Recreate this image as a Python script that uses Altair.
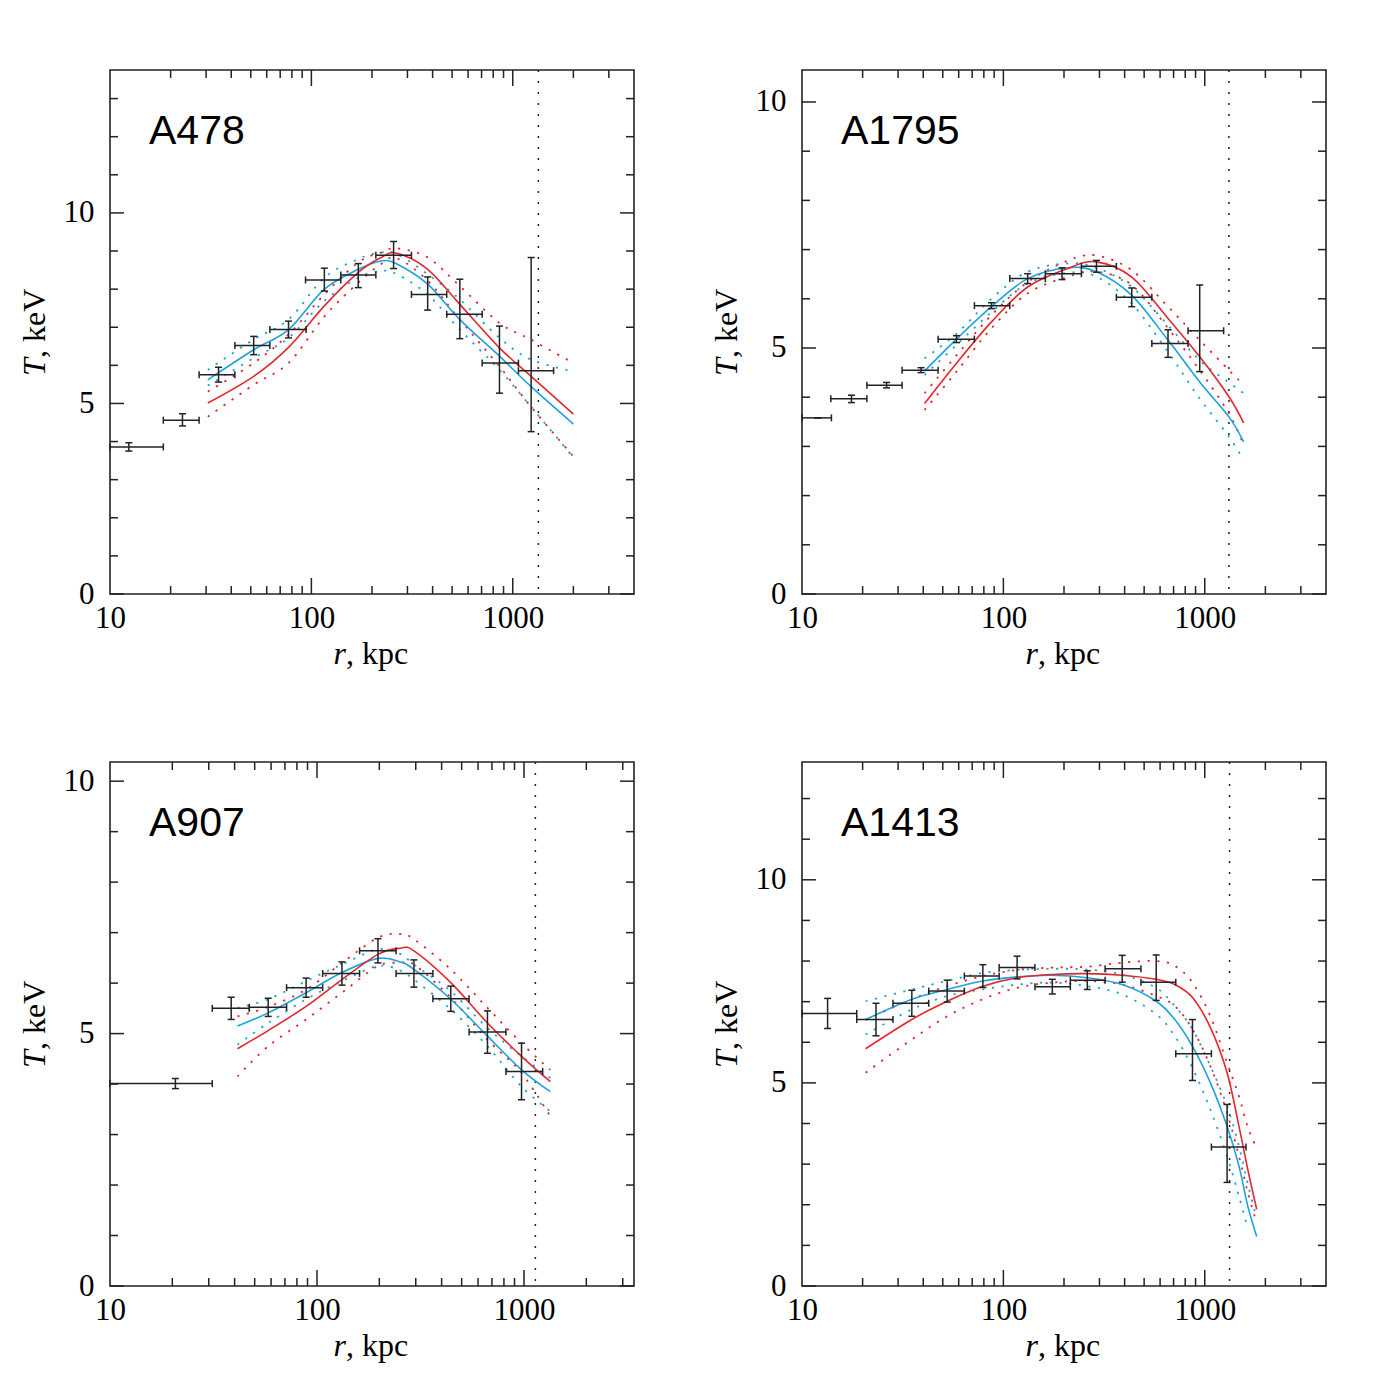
import altair as alt
import pandas as pd

BLUE = "#1ba3de"
RED = "#e4262c"
INK = "#222222"
SERIF = "Liberation Serif"
SANS = "Liberation Sans"

# ---------------- A478 ----------------
A478_r = [12.4, 22.9, 34.6, 51.7, 77.0, 116, 171, 256, 378, 546, 859, 1234]
A478_rlo = [10.0, 18.4, 27.7, 41.7, 62.2, 93.5, 140, 209, 314, 470, 705, 1067]
A478_rhi = [18.4, 27.7, 41.7, 62.2, 94.2, 140, 209, 314, 470, 705, 1067, 1595]
A478_T = [3.86, 4.56, 5.75, 6.52, 6.94, 8.24, 8.37, 8.89, 7.86, 7.34, 6.06, 5.86]
A478_Tlo = [3.75, 4.41, 5.56, 6.28, 6.72, 7.95, 8.04, 8.54, 7.45, 6.70, 5.27, 4.26]
A478_Thi = [3.97, 4.73, 5.95, 6.76, 7.16, 8.55, 8.67, 9.25, 8.32, 8.26, 7.03, 8.83]
A478_fit_r = [30.6, 51.7, 77, 116, 171, 222, 266, 378, 546, 859, 1234, 2000]
A478_blue = [5.62, 6.41, 6.94, 8.00, 8.52, 8.74, 8.66, 8.13, 7.20, 6.24, 5.44, 4.46]
A478_blue_hi = [5.88, 6.68, 7.20, 8.30, 8.79, 8.96, 8.92, 8.39, 7.73, 6.72, 6.15, 5.84]
A478_blue_lo = [5.47, 6.19, 6.72, 7.69, 8.30, 8.48, 8.39, 7.86, 6.94, 5.88, 4.91, 3.58]
A478_red = [5.01, 5.71, 6.47, 7.56, 8.44, 8.83, 8.94, 8.52, 7.60, 6.46, 5.71, 4.72]
A478_red_hi = [5.31, 6.06, 6.81, 7.86, 8.70, 8.96, 9.07, 8.83, 8.08, 7.11, 6.67, 6.06]
A478_red_lo = [4.65, 5.49, 6.06, 7.28, 8.17, 8.66, 8.81, 8.22, 7.20, 5.97, 4.91, 3.61]
A478_rvir = 1340

# ---------------- A1795 ----------------
A1795_r = [12.0, 17.6, 26.3, 39.0, 58.5, 87.3, 132, 195.5, 290, 434, 657, 944]
A1795_rlo = [10.0, 13.9, 21.0, 31.4, 47.4, 71.8, 107.6, 161.6, 244, 364, 546, 826]
A1795_rhi = [14.0, 21.0, 31.4, 47.4, 71.8, 107.6, 161.6, 244, 364, 546, 826, 1241]
A1795_T = [3.58, 3.97, 4.245, 4.55, 5.18, 5.86, 6.41, 6.51, 6.66, 6.03, 5.09, 5.35]
A1795_Tlo = [3.58, 3.89, 4.19, 4.50, 5.11, 5.80, 6.31, 6.39, 6.54, 5.84, 4.81, 4.52]
A1795_Thi = [3.58, 4.04, 4.30, 4.60, 5.25, 5.92, 6.51, 6.63, 6.78, 6.22, 5.37, 6.28]
A1795_fit_r = [40.6, 58.5, 87.3, 132, 210, 290, 434, 657, 944, 1318, 1560]
A1795_blue = [4.53, 5.18, 5.84, 6.41, 6.63, 6.55, 6.07, 5.16, 4.31, 3.60, 3.09]
A1795_blue_hi = [4.79, 5.29, 6.00, 6.55, 6.72, 6.63, 6.24, 5.46, 4.75, 4.30, 4.08]
A1795_blue_lo = [4.45, 5.06, 5.73, 6.31, 6.53, 6.45, 5.90, 4.92, 3.97, 3.20, 2.72]
A1795_red = [3.87, 4.69, 5.53, 6.24, 6.62, 6.75, 6.44, 5.60, 4.82, 4.01, 3.48]
A1795_red_hi = [4.08, 4.85, 5.67, 6.34, 6.78, 6.88, 6.58, 5.84, 5.16, 4.55, 4.25]
A1795_red_lo = [3.74, 4.52, 5.40, 6.11, 6.45, 6.55, 6.28, 5.40, 4.55, 3.67, 3.03]
A1795_rvir = 1318

# ---------------- A907 ----------------
A907_r = [20.7, 38.5, 58.1, 88.6, 132, 197, 294, 443, 666, 973]
A907_rlo = [10.0, 31.2, 47.1, 71.3, 106.5, 160.6, 241, 363, 543, 818]
A907_rhi = [31.2, 47.1, 71.3, 106.5, 160.6, 241, 363, 543, 818, 1231]
A907_T = [4.01, 5.50, 5.52, 5.91, 6.19, 6.64, 6.19, 5.69, 5.03, 4.25]
A907_Tlo = [3.91, 5.28, 5.34, 5.72, 5.96, 6.40, 5.92, 5.44, 4.61, 3.69]
A907_Thi = [4.11, 5.72, 5.70, 6.10, 6.42, 6.88, 6.46, 5.94, 5.45, 4.81]
A907_fit_r = [41.3, 58.1, 88.6, 132, 197, 252, 294, 443, 666, 973, 1340]
A907_blue = [5.15, 5.41, 5.81, 6.21, 6.49, 6.42, 6.27, 5.68, 4.95, 4.28, 3.85]
A907_blue_hi = [5.51, 5.68, 6.04, 6.37, 6.67, 6.58, 6.37, 5.84, 5.11, 4.55, 4.12]
A907_blue_lo = [4.78, 5.21, 5.68, 6.04, 6.34, 6.25, 6.07, 5.48, 4.75, 3.95, 3.46]
A907_red = [4.70, 5.06, 5.54, 6.07, 6.57, 6.69, 6.64, 6.01, 5.21, 4.55, 4.05]
A907_red_hi = [5.34, 5.53, 5.87, 6.40, 6.90, 6.97, 6.87, 6.27, 5.51, 4.81, 4.28]
A907_red_lo = [4.15, 4.75, 5.28, 5.81, 6.34, 6.40, 6.37, 5.71, 4.88, 4.22, 3.36]
A907_rvir = 1135

# ---------------- A1413 ----------------
A1413_r = [13.4, 23.3, 35.1, 52.6, 79.1, 117, 175, 261, 389, 574, 869, 1291]
A1413_rlo = [10.0, 18.7, 28.3, 42.6, 64.0, 95.3, 143.5, 215, 320, 482, 718, 1079]
A1413_rhi = [18.7, 28.3, 42.6, 64.0, 95.3, 143.5, 215, 320, 482, 718, 1079, 1603]
A1413_T = [6.71, 6.56, 6.96, 7.26, 7.63, 7.84, 7.37, 7.53, 7.81, 7.48, 5.72, 3.42]
A1413_Tlo = [6.34, 6.16, 6.64, 6.99, 7.35, 7.56, 7.19, 7.30, 7.48, 7.03, 5.06, 2.55]
A1413_Thi = [7.08, 6.96, 7.28, 7.53, 7.91, 8.12, 7.55, 7.76, 8.14, 8.15, 6.56, 4.47]
A1413_fit_r = [20.7, 35.1, 52.6, 79.1, 117, 175, 261, 389, 574, 710, 869, 1067, 1291, 1479, 1637, 1811]
A1413_blue = [6.56, 7.06, 7.30, 7.51, 7.61, 7.65, 7.59, 7.42, 7.01, 6.56, 5.90, 5.00, 3.93, 2.95, 1.96, 1.22]
A1413_blue_hi = [7.01, 7.30, 7.51, 7.71, 7.78, 7.81, 7.79, 7.67, 7.34, 6.89, 6.32, 5.41, 4.43, 3.44, 2.50, 1.67]
A1413_blue_lo = [6.19, 6.81, 7.14, 7.30, 7.42, 7.47, 7.38, 7.18, 6.69, 6.15, 5.37, 4.34, 3.19, 2.21, 1.40, None]
A1413_red = [5.84, 6.56, 7.01, 7.38, 7.59, 7.67, 7.69, 7.65, 7.55, 7.42, 7.10, 6.36, 5.25, 3.93, 2.86, 1.89]
A1413_red_hi = [6.55, 7.06, 7.38, 7.63, 7.78, 7.84, 7.86, 7.96, 8.00, 7.88, 7.47, 6.64, 5.49, 4.67, 3.90, 3.40]
A1413_red_lo = [5.25, 6.07, 6.64, 7.06, 7.34, 7.47, 7.51, 7.42, 7.14, 6.89, 6.32, 5.41, 4.26, 3.19, 2.30, 1.55]
A1413_rvir = 1328

# axis ranges and tick values
X_LABELS = [10, 100, 1000]
X_MAJOR = [100, 1000]
X_MINOR = [20, 30, 40, 50, 60, 70, 80, 90, 200, 300, 400, 500, 600, 700, 800, 900, 2000, 3000]
Y_LABELS = [0, 5, 10]

W = 524
H = 524


def fit_df(r, vals):
    rows = [(a, b) for a, b in zip(r, vals) if b is not None]
    return pd.DataFrame(rows, columns=["r", "T"])


def panel(name, xmax, ymax, rvir, pts, fit_r, fits):
    xs = alt.Scale(type="log", domain=[10, xmax], nice=False)
    ys = alt.Scale(domain=[0, ymax], nice=False, zero=False)
    xax = alt.Axis(values=X_LABELS, format="d", title=None, labelFlush=False)
    yax = alt.Axis(values=Y_LABELS, title=None, labelFlush=False)

    def X(f):
        return alt.X(f, type="quantitative", scale=xs, axis=xax)

    def Y(f):
        return alt.Y(f, type="quantitative", scale=ys, axis=yax)

    layers = []
    # frame ticks (inward)
    xmaj = pd.DataFrame({"v": X_MAJOR})
    xmin = pd.DataFrame({"v": [v for v in X_MINOR if v < xmax]})
    yall = list(range(0, int(ymax) + 1))
    ymaj = pd.DataFrame({"v": [v for v in yall if v % 5 == 0]})
    ymin = pd.DataFrame({"v": [v for v in yall if v % 5 != 0]})
    tk = dict(color=INK, strokeWidth=1.5)
    for d, ln in ((xmin, 8), (xmaj, 16)):
        layers.append(alt.Chart(d).mark_rule(**tk).encode(x=X("v"), y=alt.value(H), y2=alt.value(H - ln)))
        layers.append(alt.Chart(d).mark_rule(**tk).encode(x=X("v"), y=alt.value(0), y2=alt.value(ln)))
    for d, ln in ((ymin, 8), (ymaj, 14)):
        layers.append(alt.Chart(d).mark_rule(**tk).encode(y=Y("v"), x=alt.value(0), x2=alt.value(ln)))
        layers.append(alt.Chart(d).mark_rule(**tk).encode(y=Y("v"), x=alt.value(W), x2=alt.value(W - ln)))

    # virial radius dotted line
    layers.append(
        alt.Chart(pd.DataFrame({"r": [rvir]}))
        .mark_rule(color=INK, strokeWidth=1.5, strokeDash=[2, 9])
        .encode(x=X("r"), y=alt.value(0), y2=alt.value(H))
    )

    # model curves
    styles = [
        ("blue_hi", BLUE, [2.2, 7.5]),
        ("blue_lo", BLUE, [2.2, 7.5]),
        ("red_hi", RED, [2.2, 7.5]),
        ("red_lo", RED, [2.2, 7.5]),
        ("blue", BLUE, None),
        ("red", RED, None),
    ]
    for key, col, dash in styles:
        kw = dict(color=col, strokeWidth=1.6, interpolate="cardinal", clip=True)
        if dash:
            kw["strokeDash"] = dash
            kw["strokeWidth"] = 1.8
        layers.append(alt.Chart(fit_df(fit_r, fits[key])).mark_line(**kw).encode(x=X("r"), y=Y("T")))

    # data points with error bars
    pdf = pd.DataFrame(pts)
    eb = dict(color=INK, strokeWidth=1.5)
    base = alt.Chart(pdf)
    layers.append(base.mark_rule(**eb).encode(x=X("rlo"), x2="rhi", y=Y("T")))
    layers.append(base.mark_rule(**eb).encode(x=X("r"), y=Y("Tlo"), y2="Thi"))
    layers.append(base.mark_tick(orient="vertical", size=7, thickness=1.5, color=INK, opacity=1).encode(x=X("rlo"), y=Y("T")))
    layers.append(base.mark_tick(orient="vertical", size=7, thickness=1.5, color=INK, opacity=1).encode(x=X("rhi"), y=Y("T")))
    layers.append(base.mark_tick(orient="horizontal", size=7, thickness=1.5, color=INK, opacity=1).encode(x=X("r"), y=Y("Tlo")))
    layers.append(base.mark_tick(orient="horizontal", size=7, thickness=1.5, color=INK, opacity=1).encode(x=X("r"), y=Y("Thi")))

    # cluster name
    layers.append(
        alt.Chart(pd.DataFrame({"t": [name]}))
        .mark_text(font=SANS, fontSize=41, align="left", baseline="alphabetic", color="black")
        .encode(x=alt.value(39), y=alt.value(74), text="t:N")
    )
    # axis titles with italic symbols
    tx = pd.DataFrame({"a": ["r"], "b": [", kpc"], "c": ["T"], "d": [", keV"]})
    tb = alt.Chart(tx)
    layers.append(tb.mark_text(font=SERIF, fontSize=32, fontStyle="italic", align="right", baseline="alphabetic", color="black")
                  .encode(x=alt.value(W / 2 - 26), y=alt.value(H + 70), text="a:N"))
    layers.append(tb.mark_text(font=SERIF, fontSize=32, align="left", baseline="alphabetic", color="black")
                  .encode(x=alt.value(W / 2 - 26), y=alt.value(H + 70), text="b:N"))
    layers.append(tb.mark_text(font=SERIF, fontSize=32, fontStyle="italic", align="left", baseline="alphabetic", angle=270, color="black")
                  .encode(x=alt.value(-65), y=alt.value(H / 2 + 44), text="c:N"))
    layers.append(tb.mark_text(font=SERIF, fontSize=32, align="left", baseline="alphabetic", angle=270, color="black")
                  .encode(x=alt.value(-65), y=alt.value(H / 2 + 44 - 18), text="d:N"))

    return alt.layer(*layers).properties(width=W, height=H)


def pts_of(r, rlo, rhi, T, Tlo, Thi):
    return {"r": r, "rlo": rlo, "rhi": rhi, "T": T, "Tlo": Tlo, "Thi": Thi}


p1 = panel("A478", 4000, 13.75, A478_rvir,
           pts_of(A478_r, A478_rlo, A478_rhi, A478_T, A478_Tlo, A478_Thi), A478_fit_r,
           {"blue": A478_blue, "blue_hi": A478_blue_hi, "blue_lo": A478_blue_lo,
            "red": A478_red, "red_hi": A478_red_hi, "red_lo": A478_red_lo})
p2 = panel("A1795", 4000, 10.65, A1795_rvir,
           pts_of(A1795_r, A1795_rlo, A1795_rhi, A1795_T, A1795_Tlo, A1795_Thi), A1795_fit_r,
           {"blue": A1795_blue, "blue_hi": A1795_blue_hi, "blue_lo": A1795_blue_lo,
            "red": A1795_red, "red_hi": A1795_red_hi, "red_lo": A1795_red_lo})
p3 = panel("A907", 3400, 10.38, A907_rvir,
           pts_of(A907_r, A907_rlo, A907_rhi, A907_T, A907_Tlo, A907_Thi), A907_fit_r,
           {"blue": A907_blue, "blue_hi": A907_blue_hi, "blue_lo": A907_blue_lo,
            "red": A907_red, "red_hi": A907_red_hi, "red_lo": A907_red_lo})
p4 = panel("A1413", 4000, 12.9, A1413_rvir,
           pts_of(A1413_r, A1413_rlo, A1413_rhi, A1413_T, A1413_Tlo, A1413_Thi), A1413_fit_r,
           {"blue": A1413_blue, "blue_hi": A1413_blue_hi, "blue_lo": A1413_blue_lo,
            "red": A1413_red, "red_hi": A1413_red_hi, "red_lo": A1413_red_lo})

chart = (
    alt.vconcat(
        alt.hconcat(p1, p2, spacing=74),
        alt.hconcat(p3, p4, spacing=74),
        spacing=89,
    )
    .properties(padding={"left": 10, "top": 60, "right": 5, "bottom": 5}, background="white")
    .configure_view(stroke=INK, strokeWidth=1.6)
    .configure_axis(ticks=False, tickSize=0, domain=False, grid=False,
                    labelFont=SERIF, labelFontSize=31, labelColor="black")
    .configure_axisX(labelPadding=9)
    .configure_axisY(labelPadding=16)
)

chart.save("out.html", embed_options={"renderer": "svg", "actions": False})
